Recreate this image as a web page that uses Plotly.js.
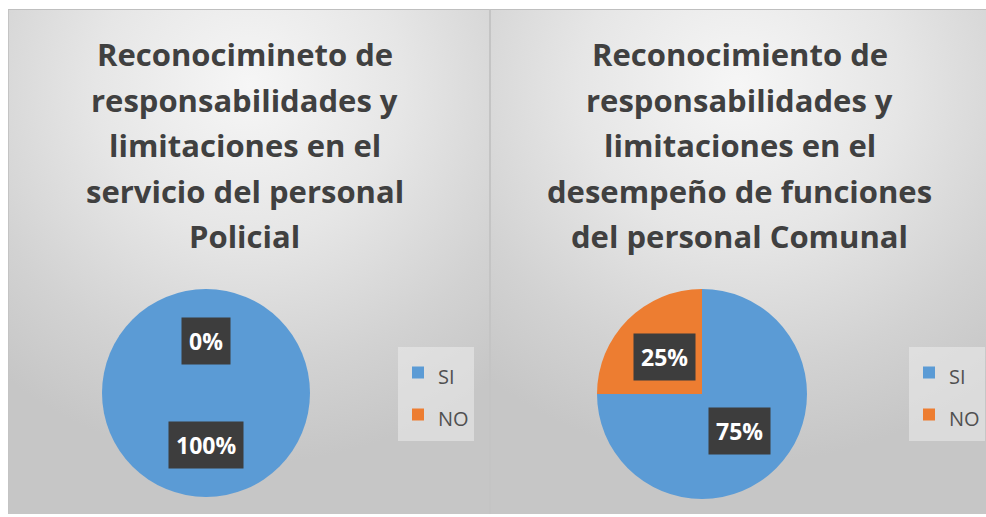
<!DOCTYPE html>
<html>
<head>
<meta charset="utf-8">
<script src="https://cdn.plot.ly/plotly-3.0.1.min.js"></script>
<style>
  html, body { margin: 0; padding: 0; background: #ffffff; width: 986px; height: 517px; overflow: hidden; }
  .panel { position: absolute; top: 9px; height: 504px;
    background: radial-gradient(ellipse 80% 75% at 50% 15%, #f6f6f6 0%, #e6e6e6 40%, #d2d2d2 75%, #c6c6c6 100%);
    border-top: 1px solid #bfbfbf; }
  #panel1 { left: 8px; width: 481px; border-left: 1px solid #c4c4c4; }
  #panel2 { left: 489px; width: 497px; border-left: 2px solid #c4c4c4; }
  .plot { position: absolute; left: 0; top: 0; }
</style>
</head>
<body>
<div id="panel1" class="panel"><div id="chart1" class="plot"></div></div>
<div id="panel2" class="panel"><div id="chart2" class="plot"></div></div>
<script>
// ---- data ----
const categories = ['SI', 'NO'];
const policialValues = [100, 0];
const comunalValues = [75, 25];
const policialTitle = ['Reconocimineto de', 'responsabilidades y', 'limitaciones en el', 'servicio del personal', 'Policial'];
const comunalTitle = ['Reconocimiento de', 'responsabilidades y', 'limitaciones en el', 'desempeño de funciones', 'del personal Comunal'];
const sliceColors = ['#5b9bd5', '#ed7d31'];

const FONT = '"Open Sans", "Noto Sans", sans-serif';

function makeChart(divId, W, H, values, titleLines, dom, legendX, titleX) {
  const total = values.reduce((a, b) => a + b, 0);
  // pie geometry (pixels, top-left origin) following Plotly's domain rule
  const cx = (dom.x[0] + dom.x[1]) / 2 * W;
  const cy = H - (dom.y[0] + dom.y[1]) / 2 * H;
  const r = Math.min((dom.x[1] - dom.x[0]) * W, (dom.y[1] - dom.y[0]) * H) / 2;

  const annotations = [];
  // title lines
  const baselines = [56, 101.5, 147, 192.5, 238];
  titleLines.forEach((t, i) => {
    annotations.push({
      text: '<b>' + t + '</b>', xref: 'paper', yref: 'paper',
      x: titleX, y: 1 - (baselines[i] - 11.8) / H, xanchor: 'center', yanchor: 'middle',
      showarrow: false, font: { family: FONT, size: 31, color: '#404040' }
    });
  });
  // data labels at the middle of each slice, half radius out
  let cum = 0;
  values.forEach((v) => {
    const mid = (cum + v / 2) / total;
    cum += v;
    const theta = 2 * Math.PI * (mid === 0 ? 1 : mid);
    const px = cx + 0.5 * r * Math.sin(theta);
    const py = cy - 0.5 * r * Math.cos(theta);
    annotations.push({
      text: '<b>' + Math.round(v / total * 100) + '%</b>', xref: 'paper', yref: 'paper',
      x: px / W, y: 1 - py / H, xanchor: 'center', yanchor: 'middle', showarrow: false,
      bgcolor: '#3d3d3d', borderpad: 7,
      font: { family: FONT, size: 23, color: '#ffffff' }
    });
  });

  const trace = {
    type: 'pie',
    labels: categories.map(c => '<span style="font-size:20px">' + c + '</span>'),
    values: values, sort: false,
    direction: 'clockwise', rotation: 0, textinfo: 'none', hoverinfo: 'label+percent',
    marker: { colors: sliceColors, line: { width: 0 } },
    domain: dom, showlegend: true
  };
  const layout = {
    width: W, height: H, margin: { l: 0, r: 0, t: 0, b: 0 },
    paper_bgcolor: 'rgba(0,0,0,0)', plot_bgcolor: 'rgba(0,0,0,0)',
    showlegend: true,
    legend: {
      x: legendX, y: 1 - 383.5 / H, xanchor: 'left', yanchor: 'middle',
      bgcolor: 'rgba(236,236,236,0.55)', borderwidth: 0,
      font: { family: FONT, size: 30, color: '#505050' },
      itemclick: false, itemdoubleclick: false
    },
    annotations: annotations
  };
  Plotly.newPlot(divId, [trace], layout, { displayModeBar: false, staticPlot: true });
}

makeChart('chart1', 481, 504, policialValues, policialTitle,
  { x: [93 / 481, 301 / 481], y: [17 / 504, 225 / 504] }, 389 / 481, 0.49);
makeChart('chart2', 497, 504, comunalValues, comunalTitle,
  { x: [106 / 497, 316 / 497], y: [15 / 504, 225 / 504] }, 418 / 497, 0.5);
</script>
</body>
</html>
